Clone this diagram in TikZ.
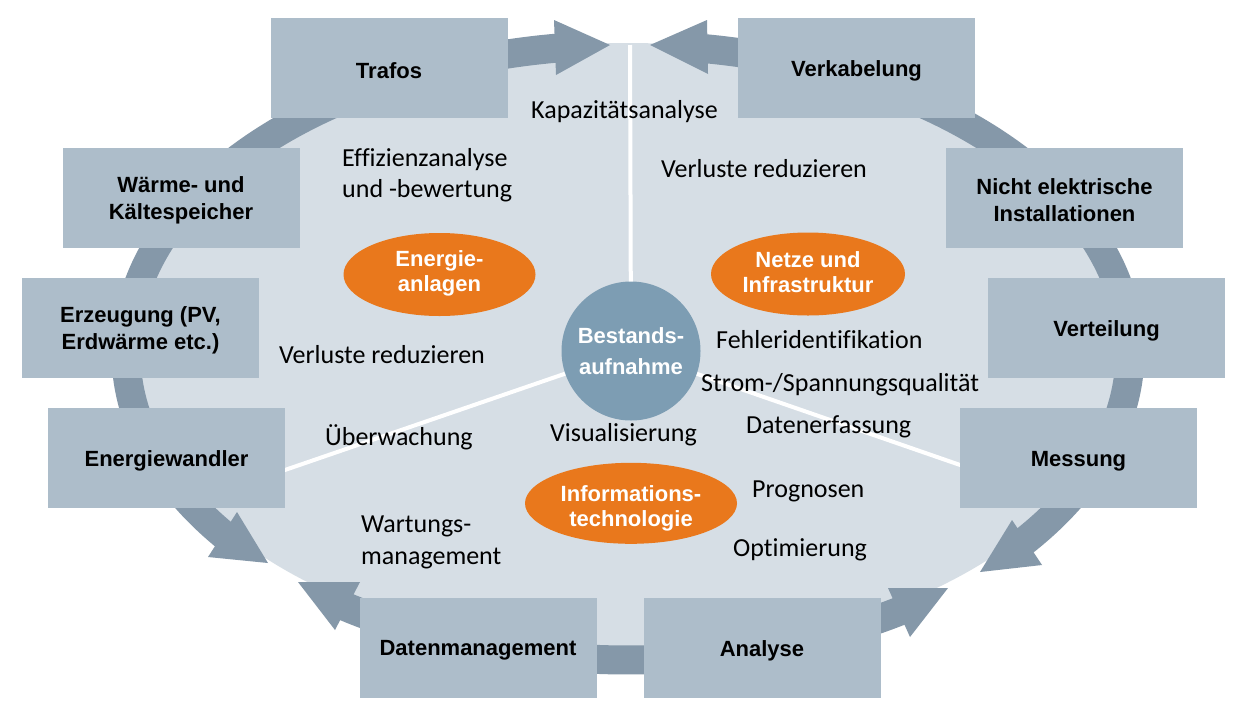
\documentclass[tikz,border=0pt]{standalone}
\usepackage{fontspec}
\setmainfont{Carlito}[Ligatures=NoCommon]
\newfontfamily\arial{Liberation Sans}
\usetikzlibrary{shapes.geometric}
\definecolor{lightfill}{RGB}{214,222,229}
\definecolor{boxfill}{RGB}{173,189,202}
\definecolor{bandcol}{RGB}{133,152,169}
\definecolor{circcol}{RGB}{125,157,179}
\definecolor{orangecol}{RGB}{233,120,28}
\begin{document}
\begin{tikzpicture}[x=1pt,y=-1pt,
  box/.style={rectangle, fill=boxfill, minimum width=237pt, minimum height=100pt, inner sep=0pt},
  boxtext/.style={inner sep=0pt, align=center, font=\arial\bfseries\fontsize{22}{27}\selectfont, text=black},
  oval/.style={ellipse, fill=orangecol, inner sep=0pt},
  ovaltext/.style={inner sep=0pt, align=center, text=white, font=\arial\bfseries\fontsize{22}{25}\selectfont},
  lbl/.style={anchor=base west, inner sep=0pt, font=\fontsize{26}{31.5}\selectfont, text=black},
  band/.style={draw=bandcol, line width=29pt, line cap=butt},
  headfill/.style={fill=bandcol},
  divider/.style={draw=white, line width=4pt}]
\fill[white] (0,0) rectangle (1246,713);
\useasboundingbox (0,0) rectangle (1246,713);

% light background ellipse
\fill[lightfill] (628,348) ellipse [x radius=500, y radius=305];

% ring arcs
\draw[band] (628,352.5) ++(142.8:502 and 307.5) arc[start angle=142.8, end angle=262.5, x radius=502, y radius=307.5];
\draw[band] (628,352.5) ++(278.3:502 and 307.5) arc[start angle=278.3, end angle=398.8, x radius=502, y radius=307.5];
\draw[band] (628,352.5) ++(56.9:502 and 307.5) arc[start angle=56.9, end angle=124.7, x radius=502, y radius=307.5];

% arrow heads
\fill[headfill] (610,45) -- (554,20) -- (556,75) -- cycle;
\fill[headfill] (650,45) -- (707,20) -- (708,74) -- cycle;
\fill[headfill] (268,563) -- (208,557) -- (237,512) -- cycle;
\fill[headfill] (298,582) -- (360,582) -- (335,630) -- cycle;
\fill[headfill] (980,572) -- (1012,520) -- (1042,565) -- cycle;
\fill[headfill] (948,588) -- (888,588) -- (910,637) -- cycle;

% dividers
\coordinate (ctr) at (631,351);
\coordinate (dtop) at (630,45);
\coordinate (dleft) at (282,471);
\coordinate (dright) at (963,466);
\draw[divider] (ctr) -- (dtop);
\draw[divider] (ctr) -- (dleft);
\draw[divider] (ctr) -- (dright);

% center circle
\node[circle, fill=circcol, minimum size=139pt, inner sep=0pt, align=center, text=white,
  font=\arial\bfseries\fontsize{22}{31}\selectfont] (bestand) at (ctr) {Bestands-\\aufnahme};

% orange ovals
\node[oval, minimum width=192pt, minimum height=83pt] (energie) at (439.5,274.5) {};
\node[ovaltext] (energietxt) at (439.5,273) {Energie-\\anlagen};
\node[oval, minimum width=194pt, minimum height=83pt] (netze) at (808,274) {};
\node[ovaltext] (netzetxt) at (808,272) {Netze und\\Infrastruktur};
\node[oval, minimum width=212pt, minimum height=81pt] (info) at (631,503.3) {};
\node[ovaltext] (infotxt) at (631,508) {Informations-\\technologie};

% boxes
\node[box] (trafos) at (389,68) {};
\node[box] (verkabelung) at (856.5,68) {};
\node[box] (waerme) at (181,197.5) {};
\node[box] (erzeugung) at (140.5,327.5) {};
\node[box] (wandler) at (166.5,458) {};
\node[box] (nichtel) at (1064.5,197.5) {};
\node[box] (verteilung) at (1106.5,327.5) {};
\node[box] (messung) at (1078.5,458) {};
\node[box] (datenm) at (478,647.5) {};
\node[box] (analyse) at (762,647.5) {};

\node[boxtext] (trafost) at (389,71) {Trafos};
\node[boxtext] (verkabelungt) at (856.5,71) {Verkabelung};
\node[boxtext] (waermet) at (181,200.5) {Wärme- und\\Kältespeicher};
\node[boxtext] (erzeugungt) at (140.5,330.5) {Erzeugung (PV,\\Erdwärme etc.)};
\node[boxtext] (wandlert) at (166.5,461) {Energiewandler};
\node[boxtext] (nichtelt) at (1064.5,200.5) {Nicht elektrische\\Installationen};
\node[boxtext] (verteilungt) at (1106.5,330.5) {Verteilung};
\node[boxtext] (messungt) at (1078.5,461) {Messung};
\node[boxtext] (datenmt) at (478,650.5) {Datenmanagement};
\node[boxtext] (analyset) at (762,650.5) {Analyse};

% labels
\node[lbl] (kap) at (531,118) {Kapazitätsanalyse};
\node[lbl] (eff1) at (342,166) {Effizienzanalyse};
\node[lbl] (eff2) at (342,197.5) {und -bewertung};
\node[lbl] (verlr) at (661,177) {Verluste reduzieren};
\node[lbl] (verll) at (279,363) {Verluste reduzieren};
\node[lbl] (fehler) at (716,348) {Fehleridentifikation};
\node[lbl] (strom) at (701,391) {Strom-/Spannungsqualität};
\node[lbl] (daten) at (746,433) {Datenerfassung};
\node[lbl] (ueber) at (325,445) {Überwachung};
\node[lbl] (visu) at (550,441.5) {Visualisierung};
\node[lbl] (prog) at (752,497) {Prognosen};
\node[lbl] (opti) at (733,556) {Optimierung};
\node[lbl] (wart1) at (361,532) {Wartungs-};
\node[lbl] (wart2) at (361,564) {management};
\end{tikzpicture}
\end{document}
